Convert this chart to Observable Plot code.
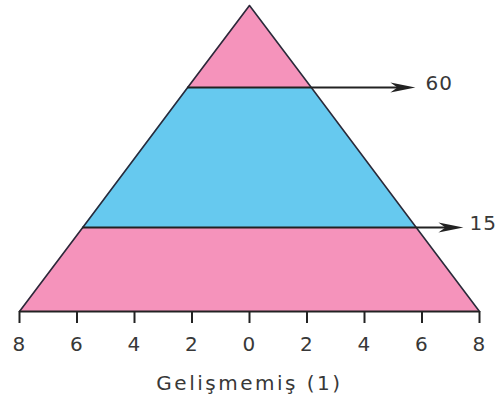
<!DOCTYPE html>
<html>
<head>
<meta charset="utf-8">
<script src="https://cdn.jsdelivr.net/npm/d3@7"></script>
<script src="https://cdn.jsdelivr.net/npm/@observablehq/plot@0.6"></script>
<style>
  html, body { margin: 0; padding: 0; background: #fff; }
  #chart svg text { letter-spacing: 1.2px; }
</style>
</head>
<body>
<div id="chart"></div>
<script>
// Age boundaries of the pyramid (top level is the schematic apex)
const ageLevels = [0, 15, 60, 100];
// Half-width of the pyramid (population %) at each age boundary
const halfWidths = [8, 5.8, 2.15, 0];
// Age bands between boundaries
const bands = ["0-15", "15-60", "60+"];
// Marked boundaries (arrows + labels)
const markedAges = [60, 15];
// X tick values (labels shown as absolute values)
const xTicks = [-8, -6, -4, -2, 0, 2, 4, 6, 8];
const title = "Gelişmemiş (1)";

// Build area rows from the arrays
const rows = [];
bands.forEach((b, i) => {
  rows.push({band: b, age: ageLevels[i], w: halfWidths[i]});
  rows.push({band: b, age: ageLevels[i + 1], w: halfWidths[i + 1]});
});
const outline = [
  ...ageLevels.map((a, i) => ({x: -halfWidths[i], y: a})),
  ...ageLevels.slice(0, -1).reverse().map((a) => ({x: halfWidths[ageLevels.indexOf(a)], y: a}))
];
const widthAt = (age) => halfWidths[ageLevels.indexOf(age)];
// arrow tip extents and label offsets (layout)
const arrowTip = new Map([[60, 5.77], [15, 7.44]]);
const labelDx = new Map([[60, 10], [15, 6]]);

// custom filled arrowhead symbol, tip at the origin, pointing right
const arrowHead = {
  draw(context) {
    context.moveTo(0, 0);
    context.lineTo(-25, -5);
    context.lineTo(-18, 0);
    context.lineTo(-25, 5);
    context.closePath();
  }
};

const ink = "#222";
const textColor = "#383838";

const labelMarks = markedAges.map(a => Plot.text([a], {
  x: d => arrowTip.get(d),
  y: d => d,
  text: d => String(d),
  dx: labelDx.get(a),
  dy: -4,
  textAnchor: "start",
  fontSize: 20,
  fill: textColor
}));

const chart = Plot.plot({
  width: 499,
  height: 409,
  marginLeft: 19,
  marginRight: 20,
  marginTop: 5,
  marginBottom: 98,
  style: {fontFamily: "DejaVu Sans, sans-serif", fontSize: "20px", background: "#fff"},
  x: {domain: [-8, 8], axis: null},
  y: {type: "linear", domain: ageLevels, range: [311, 227, 87, 5], axis: null},
  color: {domain: bands, range: ["#f593bb", "#66c9ef", "#f593bb"]},
  marks: [
    Plot.areaX(rows, {y: "age", x1: d => -d.w, x2: d => d.w, z: "band", fill: "band"}),
    Plot.line(outline, {x: "x", y: "y", stroke: "#2a2a3a", strokeWidth: 1.6}),
    Plot.ruleY(markedAges, {
      y: d => d,
      x1: d => -widthAt(d),
      x2: d => arrowTip.get(d) - 0.5,
      stroke: ink,
      strokeWidth: 2
    }),
    Plot.dot(markedAges, {
      x: d => arrowTip.get(d),
      y: d => d,
      symbol: arrowHead,
      fill: ink,
      stroke: "none"
    }),
    ...labelMarks,
    Plot.ruleY([0], {stroke: ink, strokeWidth: 2}),
    Plot.axisX({
      ticks: xTicks,
      tickFormat: d => String(Math.abs(d)),
      tickSize: 12,
      tickPadding: 13,
      strokeWidth: 2,
      stroke: ink,
      fill: textColor,
      fontSize: 20,
      label: null
    }),
    Plot.text([title], {
      text: d => d,
      frameAnchor: "bottom",
      dy: 78,
      fontSize: 20,
      fill: textColor
    })
  ]
});

document.getElementById("chart").appendChild(chart);
d3.select(chart).selectAll("text").filter(function () {
  return this.textContent === title;
}).style("letter-spacing", "2.5px");
</script>
</body>
</html>
